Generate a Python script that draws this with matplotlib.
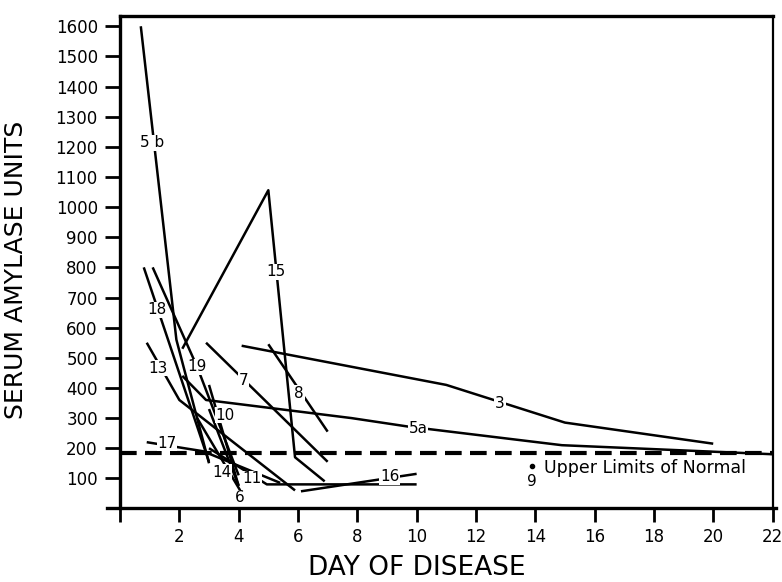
import numpy as np
import matplotlib
matplotlib.use("Agg")
import matplotlib.pyplot as plt

#curves for each case: day of disease and serum amylase units
case_5b_days = [0.7, 1.9, 3.0]
case_5b_vals = [1600, 560, 150]
case_18_days = [0.8, 3.0]
case_18_vals = [800, 155]
case_19_days = [1.1, 2.6, 4.0]
case_19_vals = [800, 470, 110]
case_15_days = [2.1, 5.0, 5.9, 6.9]
case_15_vals = [530, 1056, 170, 90]
case_13_days = [0.9, 2.0, 5.9]
case_13_vals = [550, 360, 60]
case_7_days = [2.9, 7.0]
case_7_vals = [550, 155]
case_8_days = [5.0, 7.0]
case_8_vals = [545, 255]
case_3_days = [4.1, 11.0, 15.0, 20.0]
case_3_vals = [540, 410, 285, 215]
case_5a_days = [2.1, 2.9, 7.8, 9.7, 14.9, 22.0]
case_5a_vals = [440, 360, 300, 272, 210, 180]
case_10_days = [3.0, 4.0]
case_10_vals = [410, 75]
case_17_days = [0.9, 2.8, 5.4]
case_17_vals = [220, 190, 85]
case_11_days = [3.0, 4.95, 10.0]
case_11_vals = [200, 80, 80]
case_14_days = [2.6, 4.05]
case_14_vals = [300, 60]
case_6_days = [3.0, 4.0]
case_6_vals = [330, 75]
case_16_days = [6.1, 10.0]
case_16_vals = [57, 115]
case_9_day = [13.9]
case_9_val = [141]

upper_normal = 185

#label name and where it is written (day, units)
case_labels = ["5 b", "15", "18", "13", "19", "7", "8", "10", "5a", "3",
               "17", "14", "11", "6", "16", "9"]
label_days = [1.08, 5.26, 1.25, 1.28, 2.6, 4.15, 6.04, 3.54, 10.05, 12.81,
              1.58, 3.44, 4.45, 4.05, 9.1, 13.9]
label_vals = [1213, 785, 659, 466, 470, 426, 383, 310, 267, 350,
              217, 121, 98, 35, 105, 91]

x_ticks = list(range(0, 23, 2))
x_ticklabels = [""] + [str(t) for t in range(2, 23, 2)]
y_ticks = list(range(100, 1700, 100))

curves = [
    (case_5b_days, case_5b_vals), (case_18_days, case_18_vals),
    (case_19_days, case_19_vals), (case_15_days, case_15_vals),
    (case_13_days, case_13_vals), (case_7_days, case_7_vals),
    (case_8_days, case_8_vals), (case_3_days, case_3_vals),
    (case_5a_days, case_5a_vals), (case_10_days, case_10_vals),
    (case_17_days, case_17_vals), (case_11_days, case_11_vals),
    (case_14_days, case_14_vals), (case_6_days, case_6_vals),
    (case_16_days, case_16_vals),
]

fig = plt.figure(figsize=(7.82, 5.82), dpi=100)
ax = fig.add_axes([0.1535, 0.1263, 0.8344, 0.8462])

for days, vals in curves:
    ax.plot(days, vals, color="black", linewidth=1.8, solid_capstyle="butt")

#upper limit of normal
ax.plot([0, 22], [upper_normal, upper_normal], color="black", linewidth=3,
        linestyle=(0, (4, 2)))
ax.plot(case_9_day, case_9_val, "o", color="black", markersize=3)

for lab, d, v in zip(case_labels, label_days, label_vals):
    ax.text(d, v, lab, fontsize=11, ha="center", va="center",
            bbox=dict(facecolor="white", edgecolor="none", pad=0.5))

ax.text(14.3, 134, "Upper Limits of Normal", fontsize=12.5, ha="left", va="center")

ax.set_xlim(0, 22)
ax.set_ylim(0, 1634)
ax.set_xticks(x_ticks)
ax.set_xticklabels(x_ticklabels, fontsize=12)
ax.set_yticks(y_ticks)
ax.set_yticklabels([str(t) for t in y_ticks], fontsize=12)
ax.tick_params(axis="x", direction="out", length=10, width=2, pad=4)
ax.tick_params(axis="y", direction="out", length=11, width=2, pad=5)

for side in ["left", "bottom", "top"]:
    ax.spines[side].set_linewidth(2.4)
ax.spines["right"].set_linewidth(1.6)
ax.spines["bottom"].set_bounds(-0.45, 22.1)

ax.set_xlabel("DAY OF DISEASE", fontsize=19, va="top")
ax.xaxis.set_label_coords(0.454, -0.095)
ax.set_ylabel("SERUM AMYLASE UNITS", fontsize=18, va="center")
ax.yaxis.set_label_coords(-0.16, 0.484)

fig.savefig("out.png", dpi=100)
